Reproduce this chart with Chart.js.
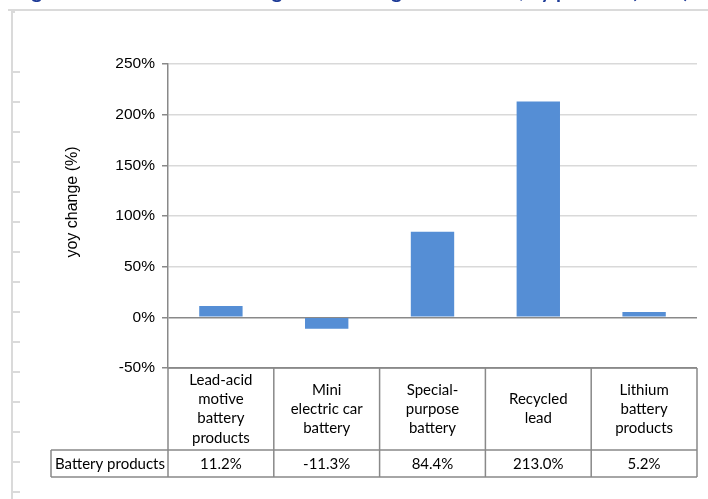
<!DOCTYPE html>
<html>
<head>
<meta charset="utf-8">
<title>yoy change by product</title>
<script src="https://cdn.jsdelivr.net/npm/chart.js@4"></script>
<style>
  html, body { margin: 0; padding: 0; background: #fff; }
  #wrap { width: 708px; height: 499px; position: relative; }
</style>
</head>
<body>
<div id="wrap"><canvas id="grafico" width="708" height="499"></canvas></div>
<script>
// Dados do gráfico
const categorias = [
  ['Lead-acid', 'motive', 'battery', 'products'],
  ['Mini', 'electric car', 'battery'],
  ['Special-', 'purpose', 'battery'],
  ['Recycled', 'lead'],
  ['Lithium', 'battery', 'products']
];
const serieNome = 'Battery products';
const valores = [11.2, -11.3, 84.4, 213.0, 5.2];
const eixoY = { min: -50, max: 250, passo: 50 };
const tituloEixo = 'yoy change (%)';
const tituloFigura = "Figure 3: Chaowei's revenue growth among the divisions, by product (2014)";

const COR_BARRA = '#558ed5';
const COR_LINHA = '#898989';
const COR_GRADE = '#d9d9d9';
const FONTE_EIXO = '"Liberation Sans", Arial, sans-serif';

// Moldura cinza à esquerda (régua do documento) + título cortado
const pluginMoldura = {
  id: 'moldura',
  beforeDraw(chart) {
    const ctx = chart.ctx;
    ctx.save();
    ctx.fillStyle = '#fff';
    ctx.fillRect(0, 0, chart.width, chart.height);
    ctx.strokeStyle = '#dadada';
    ctx.lineWidth = 2;
    ctx.beginPath();
    ctx.moveTo(8, 10);
    ctx.lineTo(708, 10);
    ctx.moveTo(12, 10);
    ctx.lineTo(12, 499);
    ctx.moveTo(12, 12);
    ctx.lineTo(15, 12);
    for (let y = 72; y < 499; y += 30) {
      ctx.moveTo(12, y);
      ctx.lineTo(20, y);
    }
    ctx.stroke();

    // título (só a parte de baixo aparece)
    ctx.fillStyle = '#1f3c98';
    ctx.font = 'bold 20px Lato';
    const w = ctx.measureText(tituloFigura).width;
    const tam = 20 * 675 / w;
    ctx.font = 'bold ' + tam.toFixed(2) + 'px Lato';
    ctx.textAlign = 'left';
    ctx.textBaseline = 'alphabetic';
    ctx.fillText(tituloFigura, 15, -2.5);
    ctx.restore();
  }
};

// Título do eixo Y e tabela de dados
const pluginTabela = {
  id: 'tabela',
  afterDraw(chart) {
    const ctx = chart.ctx;
    const area = chart.chartArea;
    const x = chart.scales.x;
    const n = categorias.length;
    const larg = (area.right - area.left) / n;
    const topo = area.bottom;
    const meio = topo + 82;
    const base = meio + 27;
    const esq = 51;

    ctx.save();
    // título do eixo
    ctx.fillStyle = '#000';
    ctx.font = '16px ' + FONTE_EIXO;
    ctx.translate(73, 202);
    ctx.rotate(-Math.PI / 2);
    ctx.textAlign = 'center';
    ctx.textBaseline = 'middle';
    ctx.fillText(tituloEixo, 0, 0);
    ctx.setTransform(1, 0, 0, 1, 0, 0);

    // linhas da tabela
    ctx.strokeStyle = COR_LINHA;
    ctx.lineWidth = 1.5;
    ctx.beginPath();
    ctx.moveTo(area.left, topo); ctx.lineTo(area.right, topo);
    ctx.moveTo(esq, meio); ctx.lineTo(area.right, meio);
    ctx.moveTo(esq, base); ctx.lineTo(area.right, base);
    ctx.moveTo(esq, meio); ctx.lineTo(esq, base);
    for (let i = 0; i <= n; i++) {
      const xi = area.left + i * larg;
      ctx.moveTo(xi, topo); ctx.lineTo(xi, base);
    }
    ctx.stroke();

    // textos
    ctx.fillStyle = '#000';
    ctx.font = '15px Lato, sans-serif';
    ctx.textAlign = 'center';
    ctx.textBaseline = 'middle';
    const alturaLinha = 19.3;
    categorias.forEach((linhas, i) => {
      const cx = x.getPixelForValue(i);
      const cy = (topo + meio) / 2;
      const ini = cy - (linhas.length - 1) * alturaLinha / 2;
      linhas.forEach((t, j) => ctx.fillText(t, cx, ini + j * alturaLinha));
      ctx.fillText(valores[i].toFixed(1) + '%', cx, (meio + base) / 2 + 1);
    });
    ctx.textAlign = 'left';
    ctx.fillText(serieNome, esq + 4, (meio + base) / 2 + 1);
    ctx.restore();
  }
};

const ctx = document.getElementById('grafico').getContext('2d');
new Chart(ctx, {
  type: 'bar',
  data: {
    labels: categorias,
    datasets: [{
      label: serieNome,
      data: valores,
      backgroundColor: COR_BARRA,
      borderWidth: 0,
      categoryPercentage: 1,
      barPercentage: 0.41
    }]
  },
  options: {
    responsive: false,
    animation: false,
    devicePixelRatio: 1,
    layout: { padding: { top: 64, right: 11, bottom: 131, left: 0 } },
    plugins: {
      legend: { display: false },
      tooltip: { enabled: false }
    },
    scales: {
      x: { display: false },
      y: {
        min: eixoY.min,
        max: eixoY.max,
        afterFit: (s) => { s.width = 168; },
        ticks: {
          stepSize: eixoY.passo,
          padding: 7,
          color: '#000',
          font: { family: FONTE_EIXO, size: 15.5 },
          callback: (v) => v + '%'
        },
        grid: {
          color: (c) => (c.tick && (c.tick.value === 0 || c.tick.value === eixoY.min)) ? COR_LINHA : COR_GRADE,
          lineWidth: 1.5,
          tickLength: 6,
          tickColor: COR_LINHA
        },
        border: { color: COR_LINHA, width: 1.5 }
      }
    }
  },
  plugins: [pluginMoldura, pluginTabela]
});
</script>
</body>
</html>
